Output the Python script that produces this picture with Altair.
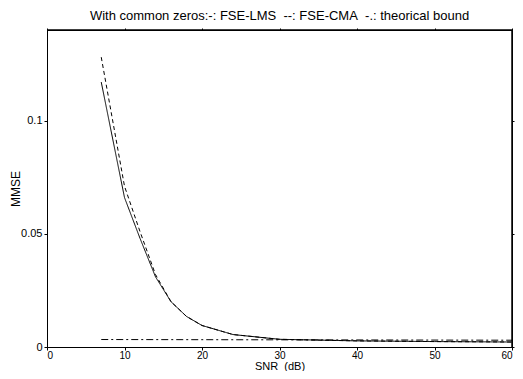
import altair as alt
import pandas as pd

snr = [7, 10, 12, 14, 16, 18, 20, 24, 30, 40, 50, 60]
lms = [0.117, 0.066, 0.048, 0.031, 0.020, 0.0135, 0.0095, 0.0055, 0.0034, 0.0027, 0.0024, 0.0022]
cma = [0.128, 0.071, 0.051, 0.032, 0.020, 0.0135, 0.0095, 0.0055, 0.0034, 0.0027, 0.0024, 0.0022]
bound_snr = [7, 60]
bound = [0.0033, 0.0030]
series_names = ["FSE-LMS", "FSE-CMA", "theorical bound"]
x_ticks = [0, 10, 20, 30, 40, 50, 60]
y_ticks = [0, 0.05, 0.1]
x_max = 60
y_max = 0.14

df = pd.concat([
    pd.DataFrame({"snr": snr, "mmse": lms, "series": series_names[0]}),
    pd.DataFrame({"snr": snr, "mmse": cma, "series": series_names[1]}),
    pd.DataFrame({"snr": bound_snr, "mmse": bound, "series": series_names[2]}),
], ignore_index=True)
df_frame = pd.DataFrame({"snr": [0, x_max], "mmse": [0, y_max]})

font = "Liberation Sans"
NB = "\u00a0"
common = dict(grid=False, tickSize=3, domainColor="black", tickColor="black",
              labelColor="black", titleColor="black", labelFont=font, titleFont=font,
              titleFontWeight="normal")
xs = alt.Scale(domain=[0, x_max], nice=False)
ys = alt.Scale(domain=[0, y_max], nice=False)

x = alt.X("snr:Q", scale=xs,
          axis=alt.Axis(values=x_ticks, title=f"SNR{NB}{NB}(dB)", labelPadding=0,
                        titleY=22, titleBaseline="alphabetic",
                        labelFontSize=10, titleFontSize=11, **common))
y = alt.Y("mmse:Q", scale=ys,
          axis=alt.Axis(values=y_ticks, title="MMSE",
                        labelExpr="datum.value == 0 ? '0' : format(datum.value, '.2~f')",
                        labelFontSize=11, titleFontSize=12,
                        titleX=-28, titleBaseline="alphabetic", **common))
x_top = alt.X("snr:Q", scale=xs,
              axis=alt.Axis(orient="top", values=x_ticks, labels=False, tickSize=2,
                            title="", domainColor="black", tickColor="black",
                            domainWidth=1, grid=False))
y_right = alt.Y("mmse:Q", scale=ys,
                axis=alt.Axis(orient="right", values=y_ticks, labels=False, tickSize=2,
                              title="", domainColor="black", tickColor="black",
                              domainWidth=1, grid=False))

lines = alt.Chart(df).mark_line(color="black", strokeWidth=1).encode(
    x=x, y=y,
    strokeDash=alt.StrokeDash("series:N", legend=None,
                              scale=alt.Scale(domain=series_names,
                                              range=[[1, 0], [4, 3], [7, 3, 2, 3]])),
)
top_rule = alt.Chart(df_frame).mark_rule(color="black", strokeWidth=1).encode(
    y=alt.Y(datum=y_max, type="quantitative"))
right_rule = alt.Chart(df_frame).mark_rule(color="black", strokeWidth=1).encode(
    x=alt.X(datum=x_max, type="quantitative"))
inner = alt.layer(lines, top_rule, right_rule)
frame = alt.Chart(df_frame).mark_point(opacity=0).encode(x=x_top, y=y_right)

title_text = f"With common zeros:-: FSE-LMS{NB}{NB}--: FSE-CMA{NB}{NB}-.: theorical bound"

chart = alt.layer(inner, frame).resolve_axis(x="independent", y="independent").properties(
    width=465, height=317,
    title=alt.TitleParams(title_text, font=font, fontSize=13, fontWeight="normal",
                          color="black", offset=4),
    autosize=alt.AutoSizeParams(type="none"),
    padding={"left": 39, "top": 22, "right": 3, "bottom": 24},
).configure(background="white").configure_view(stroke="black", strokeWidth=1)

chart.save("out.html", embed_options={"renderer": "svg", "actions": False})
